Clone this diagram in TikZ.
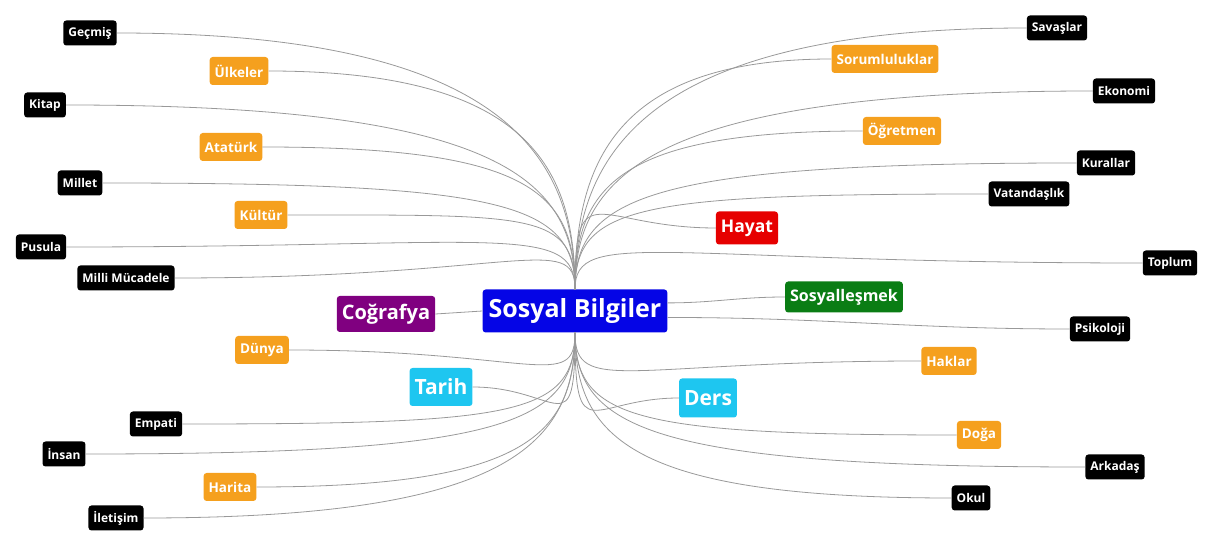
\documentclass[tikz,border=0pt]{standalone}
\usepackage{fontspec}
\setmainfont{Open Sans}
\usetikzlibrary{calc}
\definecolor{sbblue}{HTML}{0505E6}
\definecolor{sborange}{HTML}{F5A01E}
\definecolor{sbpurple}{HTML}{800080}
\definecolor{sbred}{HTML}{E60000}
\definecolor{sbgreen}{HTML}{0A7D14}
\definecolor{sbcyan}{HTML}{1EC6F0}

\begin{document}
\begin{tikzpicture}[
        x=1pt, y=1pt,
        box/.style={
            rectangle, rounded corners=3pt, text=white, inner xsep=5pt, inner ysep=1pt, align=center
        },
        hub/.style={box, fill=sbblue, minimum height=43pt, inner xsep=6pt, font=\bfseries\fontsize{25}{30}\selectfont},
        term/.style={box, fill=black, minimum height=25pt, font=\bfseries\fontsize{12}{14}\selectfont},
        topic/.style={box, fill=sborange, minimum height=28pt, font=\bfseries\fontsize{13.5}{16}\selectfont},
        branch/.style={box, minimum height=37pt, font=\bfseries\fontsize{21}{25}\selectfont},
        link/.style={draw=gray!80, line width=0.8pt},
        rise/.style={to path={let \p1=(\tikztostart), \p2=(\tikztotarget) in
            .. controls (\x1,{\y1+0.3*(\y2-\y1)+#1pt}) and ({\x2+0.85*(\x1-\x2)},\y2) .. (\tikztotarget)}},
        rise/.default=55,
        drop/.style={to path={let \p1=(\tikztostart), \p2=(\tikztotarget) in
            .. controls (\x1,{\y1+0.3*(\y2-\y1)-#1pt}) and ({\x2+0.85*(\x1-\x2)},\y2) .. (\tikztotarget)}},
        drop/.default=55
    ]
        \useasboundingbox (0,0) rectangle (1210,554);

        % Centre
        \node[hub] (sb) at (575,243) {Sosyal Bilgiler};

        % Left side
        \node[term] (gecmis) at (90,521) {Geçmiş};
        \node[topic] (ulkeler) at (239,483) {Ülkeler};
        \node[term] (kitap) at (45,449) {Kitap};
        \node[topic] (ataturk) at (231,407) {Atatürk};
        \node[term] (millet) at (80,371) {Millet};
        \node[topic] (kultur) at (261,339) {Kültür};
        \node[term] (pusula) at (41,307) {Pusula};
        \node[term] (milli) at (126,276) {Milli Mücadele};
        \node[branch, fill=sbpurple, minimum height=36pt, font=\bfseries\fontsize{20}{24}\selectfont] (cografya) at (386,240) {Coğrafya};
        \node[topic] (dunya) at (262,204) {Dünya};
        \node[branch, fill=sbcyan, minimum height=38pt] (tarih) at (441,167) {Tarih};
        \node[term] (empati) at (156,130) {Empati};
        \node[term] (insan) at (64,100) {İnsan};
        \node[topic] (harita) at (230,67) {Harita};
        \node[term] (iletisim) at (116,36) {İletişim};

        % Right side
        \node[term] (savaslar) at (1057,526) {Savaşlar};
        \node[topic] (sorumluluk) at (885,495) {Sorumluluklar};
        \node[term] (ekonomi) at (1124,463) {Ekonomi};
        \node[topic] (ogretmen) at (902,423) {Öğretmen};
        \node[term] (kurallar) at (1106,391) {Kurallar};
        \node[term] (vatandas) at (1029,360) {Vatandaşlık};
        \node[box, fill=sbred, minimum height=33pt, font=\bfseries\fontsize{17.5}{20}\selectfont] (hayat) at (747,326) {Hayat};
        \node[term] (toplum) at (1170,291) {Toplum};
        \node[box, fill=sbgreen, minimum height=31pt, font=\bfseries\fontsize{16}{19}\selectfont] (sosyal) at (844,257) {Sosyalleşmek};
        \node[term] (psikoloji) at (1100,225) {Psikoloji};
        \node[topic] (haklar) at (949,193) {Haklar};
        \node[branch, fill=sbcyan, minimum height=39pt] (ders) at (708,156) {Ders};
        \node[topic] (doga) at (979,119) {Doğa};
        \node[term] (arkadas) at (1115,87) {Arkadaş};
        \node[term] (okul) at (971,56) {Okul};

        % Upper left links
        \draw[link] (sb.north) to[rise] (gecmis.east);
        \draw[link] (sb.north) to[rise] (ulkeler.east);
        \draw[link] (sb.north) to[rise] (kitap.east);
        \draw[link] (sb.north) to[rise] (ataturk.east);
        \draw[link] (sb.north) to[rise] (millet.east);
        \draw[link] (sb.north) to[rise] (kultur.east);
        \draw[link] (sb.north) to[rise] (pusula.east);
        \draw[link] (sb.north) to[rise] (milli.east);

        % Lower left links
        \draw[link] (sb.west) -- (cografya.east);
        \draw[link] (sb.south) to[drop] (dunya.east);
        \draw[link] (sb.south) to[drop=100] (tarih.east);
        \draw[link] (sb.south) to[drop] (empati.east);
        \draw[link] (sb.south) to[drop] (insan.east);
        \draw[link] (sb.south) to[drop] (harita.east);
        \draw[link] (sb.south) to[drop] (iletisim.east);

        % Upper right links
        \draw[link] (sb.north) to[rise] (savaslar.west);
        \draw[link] (sb.north) to[rise] (sorumluluk.west);
        \draw[link] (sb.north) to[rise] (ekonomi.west);
        \draw[link] (sb.north) to[rise] (ogretmen.west);
        \draw[link] (sb.north) to[rise] (kurallar.west);
        \draw[link] (sb.north) to[rise] (vatandas.west);
        \draw[link] (sb.north) to[rise=100] (hayat.west);
        \draw[link] (sb.north) to[rise] (toplum.west);

        % Lower right links
        \draw[link] (sb.5) to[out=0, in=180] (sosyal.west);
        \draw[link] (sb.-4) to[out=0, in=180] (psikoloji.west);
        \draw[link] (sb.south) to[drop] (haklar.west);
        \draw[link] (sb.south) to[drop=100] (ders.west);
        \draw[link] (sb.south) to[drop] (doga.west);
        \draw[link] (sb.south) to[drop] (arkadas.west);
        \draw[link] (sb.south) to[drop] (okul.west);

    \end{tikzpicture}
\end{document}
